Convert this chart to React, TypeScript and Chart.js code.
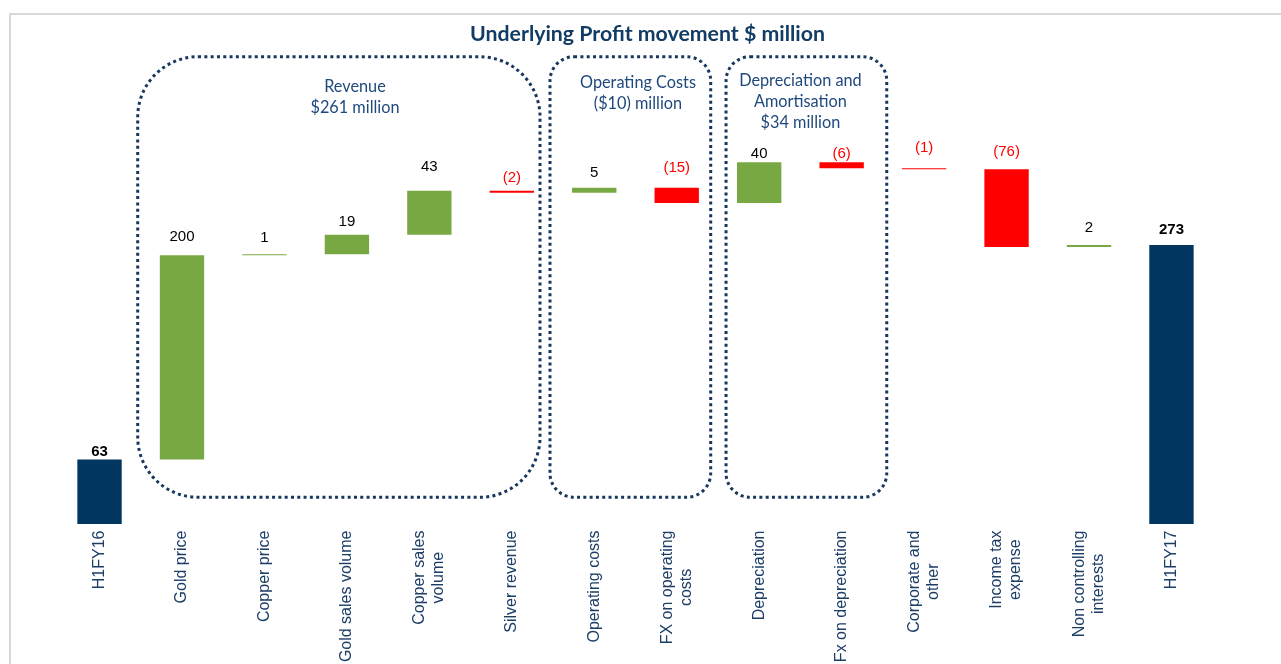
import React, { useEffect, useRef } from "react";
import { Chart, registerables } from "chart.js";

Chart.register(...registerables);

// ---- data ----
const categories: string[][] = [
  ["H1FY16"],
  ["Gold price"],
  ["Copper price"],
  ["Gold sales volume"],
  ["Copper sales", "volume"],
  ["Silver revenue"],
  ["Operating costs"],
  ["FX on operating", "costs"],
  ["Depreciation"],
  ["Fx on depreciation"],
  ["Corporate and", "other"],
  ["Income tax", "expense"],
  ["Non controlling", "interests"],
  ["H1FY17"],
];
const movements = [63, 200, 1, 19, 43, -2, 5, -15, 40, -6, -1, -76, 2, 273];
const isTotal = [true, false, false, false, false, false, false, false, false, false, false, false, false, true];

const groupTitles: string[][] = [
  ["Revenue", "$261 million"],
  ["Operating Costs", "($10) million"],
  ["Depreciation and", "Amortisation", "$34 million"],
];

const chartTitle = "Underlying Profit movement $ million";

// ---- layout / style (not data) ----
const labelGap = [3.5, 14, 12.5, 9, 20, 8.5, 10.5, 16, 4, 4.5, 16, 13, 13, 10.5];
const boxEdges = [
  [0.463, 5.342],
  [5.463, 7.412],
  [7.598, 9.547],
];
const boxTextCenter = [3.098, 6.53, 8.5];
const boxTextFirstY = [86.5, 83, 81];
const boxTop = 56.7;
const boxBottom = 497.3;

const NAVY = "#003660";
const GREEN = "#78A843";
const RED = "#FF0000";
const TEXT_BLUE = "#1F497D";
const LABEL_BLUE = "#1B3D66";
const DOT = "#17375E";

function roundRectPath(ctx: CanvasRenderingContext2D, x: number, y: number, w: number, h: number, r: number) {
  ctx.beginPath();
  ctx.moveTo(x + r, y);
  ctx.lineTo(x + w - r, y);
  ctx.arcTo(x + w, y, x + w, y + r, r);
  ctx.lineTo(x + w, y + h - r);
  ctx.arcTo(x + w, y + h, x + w - r, y + h, r);
  ctx.lineTo(x + r, y + h);
  ctx.arcTo(x, y + h, x, y + h - r, r);
  ctx.lineTo(x, y + r);
  ctx.arcTo(x, y, x + r, y, r);
  ctx.closePath();
}

const decorPlugin = {
  id: "decor",
  beforeDraw(chart: any) {
    const ctx: CanvasRenderingContext2D = chart.ctx;
    ctx.save();
    ctx.fillStyle = "#FFFFFF";
    ctx.fillRect(0, 0, chart.width, chart.height);
    ctx.strokeStyle = "#D9D9D9";
    ctx.lineWidth = 2;
    ctx.beginPath();
    ctx.moveTo(10, chart.height);
    ctx.lineTo(10, 14);
    ctx.lineTo(chart.width, 14);
    ctx.stroke();
    ctx.restore();
  },
  beforeDatasetsDraw(chart: any) {
    const ctx: CanvasRenderingContext2D = chart.ctx;
    const xs = chart.scales.x;
    ctx.save();
    // dotted group boxes
    ctx.strokeStyle = DOT;
    ctx.lineWidth = 3;
    ctx.setLineDash([3, 3.3]);
    boxEdges.forEach(([a, b]) => {
      const l = xs.getPixelForValue(a);
      const r = xs.getPixelForValue(b);
      const w = r - l;
      const h = boxBottom - boxTop;
      roundRectPath(ctx, l, boxTop, w, h, 0.15 * Math.min(w, h));
      ctx.stroke();
    });
    ctx.setLineDash([]);
    // group titles
    ctx.fillStyle = TEXT_BLUE;
    ctx.textAlign = "center";
    ctx.textBaseline = "middle";
    ctx.font = "17px Lato";
    const fitW = ctx.measureText("Operating Costs").width;
    const size = 17 * 116 / fitW;
    ctx.font = `${size}px Lato`;
    groupTitles.forEach((lines, gi) => {
      const cx = xs.getPixelForValue(boxTextCenter[gi]);
      lines.forEach((ln, li) => {
        ctx.fillText(ln, cx, boxTextFirstY[gi] + li * 21);
      });
    });
    // main title
    ctx.fillStyle = "#133C64";
    ctx.font = "bold 20px Lato";
    const tw = ctx.measureText(chartTitle).width;
    const ts = 20 * 355 / tw;
    ctx.font = `bold ${ts}px Lato`;
    ctx.textBaseline = "alphabetic";
    ctx.fillText(chartTitle, 647.5, 40.7);
    ctx.restore();
  },
  afterDatasetsDraw(chart: any) {
    const ctx: CanvasRenderingContext2D = chart.ctx;
    const xs = chart.scales.x;
    const meta = chart.getDatasetMeta(0);
    ctx.save();
    // value labels
    ctx.textAlign = "center";
    ctx.textBaseline = "alphabetic";
    meta.data.forEach((el: any, i: number) => {
      const v = movements[i];
      const top = Math.min(el.y, el.base);
      ctx.font = `${isTotal[i] ? "bold " : ""}15px "Liberation Sans", Arial, sans-serif`;
      ctx.fillStyle = v < 0 ? RED : "#000000";
      const txt = v < 0 ? `(${-v})` : `${v}`;
      ctx.fillText(txt, el.x, top - labelGap[i]);
    });
    // category labels, rotated, lines centred
    ctx.fillStyle = LABEL_BLUE;
    ctx.font = `16px "Liberation Sans", Arial, sans-serif`;
    const lh = 19;
    categories.forEach((lines, i) => {
      const cx = xs.getPixelForValue(i);
      const widths = lines.map((l) => ctx.measureText(l).width);
      const W = Math.max(...widths);
      ctx.save();
      ctx.translate(cx, 530.5);
      ctx.rotate(-Math.PI / 2);
      ctx.textAlign = "center";
      ctx.textBaseline = "middle";
      lines.forEach((ln, li) => {
        const off = (li - (lines.length - 1) / 2) * lh;
        ctx.fillText(ln, -W / 2, off);
      });
      ctx.restore();
    });
    ctx.restore();
  },
};

export default function App() {
  const ref = useRef<HTMLCanvasElement>(null);
  useEffect(() => {
    const canvas = ref.current;
    if (!canvas) return;
    let cum = 0;
    const floating = movements.map((v, i) => {
      if (isTotal[i]) {
        cum = v;
        return [0, v];
      }
      const s = cum;
      cum += v;
      return [s, cum];
    });
    const colors = movements.map((v, i) => (isTotal[i] ? NAVY : v >= 0 ? GREEN : RED));
    const chart = new Chart(canvas, {
      type: "bar",
      data: {
        labels: categories as any,
        datasets: [
          {
            data: floating as any,
            backgroundColor: colors,
            borderWidth: 0,
            barPercentage: 0.538,
            categoryPercentage: 1,
          },
        ],
      },
      options: {
        responsive: false,
        animation: false,
        layout: { padding: { left: 58.3, right: 68.3, top: 13, bottom: 140 } },
        plugins: {
          legend: { display: false },
          tooltip: { enabled: false },
          title: { display: false },
        },
        scales: {
          x: { display: false, offset: true },
          y: { display: false, min: 0, max: 500 },
        },
      },
      plugins: [decorPlugin as any],
    });
    return () => chart.destroy();
  }, []);
  return (
    <div style={{ position: "fixed", left: 0, top: 0, width: 1281, height: 664, background: "#fff" }}>
      <canvas ref={ref} width={1281} height={664} style={{ display: "block", width: 1281, height: 664 }} />
    </div>
  );
}
